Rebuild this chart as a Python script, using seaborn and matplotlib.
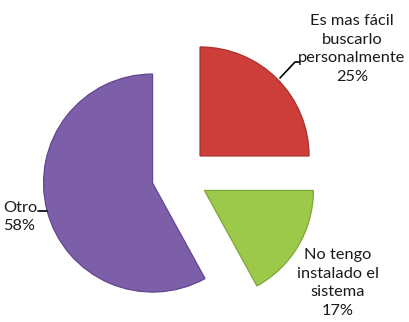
import matplotlib
matplotlib.use("Agg")
import matplotlib.pyplot as plt
import seaborn as sns

# Survey answers, drawn clockwise from 12 o'clock
categories = ["Es mas fácil\nbuscarlo\npersonalmente", "No tengo\ninstalado el\nsistema", "Otro"]
shares = [25, 17, 58]
colors = ["#CD3E3A", "#9DC94A", "#7D5EA9"]
edge_colors = ["#A8302C", "#7FA638", "#614690"]

sns.set_theme(style="white")
plt.rcParams["font.family"] = ["Lato", "DejaVu Sans"]

W, H = 409, 322
fig = plt.figure(figsize=(W / 100, H / 100), dpi=100)
ax = fig.add_axes([0, 0, 1, 1])

scale = 109.0          # pixels per unit radius
cx, cy = 180.0, 176.0  # pie centre in pixels from top-left

wedges, _ = ax.pie(
    shares,
    colors=colors,
    startangle=90,
    counterclock=False,
    explode=[0.26] * len(shares),
    radius=1.0,
    wedgeprops=dict(linewidth=0.9),
)
for w, ec in zip(wedges, edge_colors):
    w.set_edgecolor(ec)


def px(x, y):
    return (x - cx) / scale, (cy - y) / scale


ax.set_xlim(-cx / scale, (W - cx) / scale)
ax.set_ylim(-(H - cy) / scale, cy / scale)
ax.set_aspect("equal")
ax.axis("off")

fs = 11.8
ls = 1.45
labels = [f"{c}\n{v}%" for c, v in zip(categories, shares)]

ax.text(*px(352, 49), labels[0], ha="center", va="center", fontsize=fs,
        color="#1a1a1a", linespacing=ls)
ax.text(*px(338, 283), labels[1], ha="center", va="center", fontsize=fs,
        color="#1a1a1a", linespacing=ls)
ax.text(*px(3, 217), labels[2], ha="left", va="center", fontsize=fs,
        color="#1a1a1a", linespacing=ls)

# leader lines
l1 = [px(280, 78), px(295, 62), px(300, 62)]
ax.plot([p[0] for p in l1], [p[1] for p in l1], color="black", lw=1.2)
l3 = [px(38, 211), px(47, 211)]
ax.plot([p[0] for p in l3], [p[1] for p in l3], color="black", lw=1.2)

fig.savefig("out.png", dpi=100, facecolor="white")
